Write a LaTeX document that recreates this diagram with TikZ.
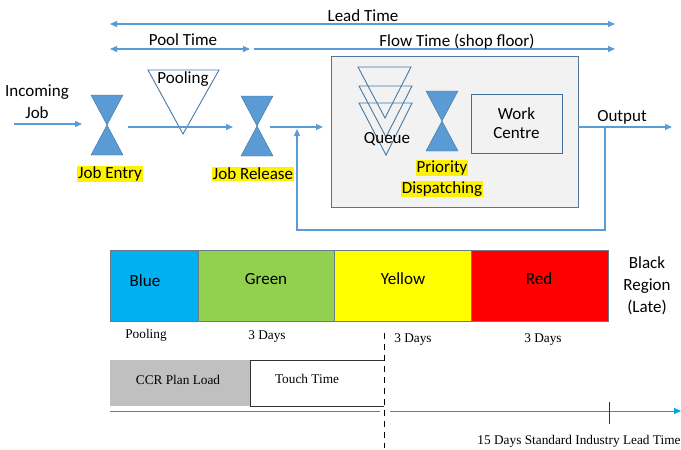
\documentclass[tikz,border=0pt]{standalone}
\usepackage{fontspec}
\setmainfont{Carlito}
\newfontfamily\tnr{Liberation Serif}
\usetikzlibrary{arrows.meta}

\definecolor{lineblue}{HTML}{5B9BD5}
\definecolor{edgeblue}{HTML}{41719C}
\definecolor{axisblue}{HTML}{00A2E8}
\definecolor{zblue}{HTML}{00B0F0}
\definecolor{zgreen}{HTML}{92D050}
\definecolor{zyellow}{HTML}{FFFF00}
\definecolor{zred}{HTML}{FF0000}
\definecolor{floorgray}{HTML}{F2F2F2}
\definecolor{loadgray}{HTML}{C0C0C0}

\tikzset{
  flow/.style={lineblue, line width=1.3pt, -{Triangle[length=7pt,width=6pt]}},
  span/.style={flow, {Triangle[length=7pt,width=6pt]}-{Triangle[length=7pt,width=6pt]}},
  tri/.style={edgeblue!80!lineblue, line width=0.9pt},
  hl/.style={fill=yellow, inner sep=1pt},
  zone/.style={draw=gray!70!edgeblue, line width=0.6pt},
  small/.style={font=\tnr\fontsize{13.3}{15}\selectfont},
  hourglass/.pic={
    \fill[lineblue, draw=edgeblue, line width=0.4pt] (-16,-30) -- (16,-30) -- (0,0) -- cycle;
    \fill[lineblue, draw=edgeblue, line width=0.4pt] (0,0) -- (-16,30) -- (16,30) -- cycle;
  }
}

\begin{document}
\begin{tikzpicture}[x=1pt, y=-1pt, font=\fontsize{17}{21}\selectfont]
  \useasboundingbox (0,0) rectangle (681,450);

  % time spans along the top
  \coordinate (leadL) at (110,24);  \coordinate (leadR) at (615,24);
  \coordinate (poolL) at (110,49);  \coordinate (poolR) at (250,49);
  \coordinate (flowL) at (254,49);  \coordinate (flowR) at (615,49);
  \draw[span] (leadL) -- (leadR);
  \draw[span] (poolL) -- (poolR);
  \draw[flow] (flowL) -- (flowR);
  \node (lead) at (363,16) {Lead Time};
  \node (pooltime) at (183,40) {Pool Time};
  \node (flowtime) at (457,42) {Flow Time (shop floor)};

  % incoming job and job entry
  \node[align=center] (incoming) at (37,102) {Incoming\\[1pt]Job};
  \coordinate (in0) at (14,124); \coordinate (in1) at (82,124);
  \draw[flow] (in0) -- (in1);
  \pic at (107,125) {hourglass};
  \node[hl] (entry) at (110,174) {Job Entry};

  % pool
  \draw[tri] (148,70) -- (219,70) -- (183,134) -- cycle;
  \node (pooling) at (183,79) {Pooling};
  \coordinate (p0) at (128,127); \coordinate (p1) at (233,127);
  \draw[flow] (p0) -- (p1);

  % job release
  \pic at (257,126) {hourglass};
  \node[hl] (release) at (253,174) {Job Release};
  \coordinate (r0) at (270,127); \coordinate (merge) at (323,127);
  \draw[flow] (r0) -- (merge);

  % shop floor
  \node[draw=edgeblue!70!gray, fill=floorgray, line width=0.8pt,
        minimum width=247pt, minimum height=151pt, inner sep=0pt] (floor) at (454.5,131.5) {};
  \draw[tri] (358,67) -- (411,67) -- (385,118) -- cycle;
  \draw[tri] (359,86) -- (412,86) -- (386,137) -- cycle;
  \draw[tri] (359,103) -- (412,103) -- (386,155) -- cycle;
  \node (queue) at (387,139) {Queue};
  \pic at (442,121) {hourglass};
  \node[hl] (priority) at (442,168) {Priority};
  \node[hl] (dispatch) at (442,189) {Dispatching};
  \node[draw=edgeblue, line width=0.9pt, minimum width=91pt, minimum height=59pt,
        align=center] (wc) at (516.5,123.5) {Work\\[-2pt]Centre};

  % output and feedback
  \coordinate (o0) at (578,127); \coordinate (o1) at (672,127);
  \draw[flow] (o0) -- (o1);
  \node (output) at (622,117) {Output};
  \coordinate (split) at (605,127); \coordinate (loop) at (605,230);
  \coordinate (back) at (297,129);
  \draw[flow] (split) -- (loop) -| (back);

  % buffer zones
  \fill[zblue] (110,250) rectangle (198,321);
  \fill[zgreen] (198,250) rectangle (334,321);
  \fill[zyellow] (334,250) rectangle (471,321);
  \fill[zred] (471,250) rectangle (608,321);
  \foreach \a/\b in {110/198,198/334,334/471,471/608}
    \draw[zone] (\a,250) rectangle (\b,321);
  \node (blue) at (145,281) {Blue};
  \node (green) at (266,279) {Green};
  \node (yellow) at (403,279) {Yellow};
  \node (red) at (539,279) {Red};
  \node[align=center] (black) at (647,286) {Black\\[1pt]Region\\[1pt](Late)};

  % days under the zones
  \node[small] (d0) at (146,335) {Pooling};
  \node[small] (d1) at (267,337) {3 Days};
  \node[small] (d2) at (413,340) {3 Days};
  \node[small] (d3) at (543,340) {3 Days};

  % plan load and touch time
  \fill[loadgray] (110,360) rectangle (250,406);
  \node[small] (ccr) at (178,380) {CCR Plan Load};
  \draw[black!80, line width=0.9pt] (384,360) -- (250,360) -- (250,406) -- (384,406);
  \node[small] (touch) at (307,379) {Touch Time};
  \coordinate (cutTop) at (384,333); \coordinate (cutBot) at (384,448);
  \draw[black, line width=0.9pt, dash pattern=on 6pt off 5pt] (cutTop) -- (cutBot);

  % time axis
  \coordinate (ax0) at (110,411); \coordinate (ax1) at (380,411);
  \coordinate (ax2) at (390,411); \coordinate (ax3) at (681,411);
  \draw[axisblue, line width=0.9pt] (ax0) -- (ax1);
  \draw[axisblue, line width=0.9pt, -{Triangle[length=7pt,width=6pt]}] (ax2) -- (ax3);
  \coordinate (tickT) at (609,402); \coordinate (tickB) at (609,424);
  \draw[black!80, line width=0.9pt] (tickT) -- (tickB);
  \node[small] (std) at (579,441) {15 Days Standard Industry Lead Time};
\end{tikzpicture}
\end{document}
